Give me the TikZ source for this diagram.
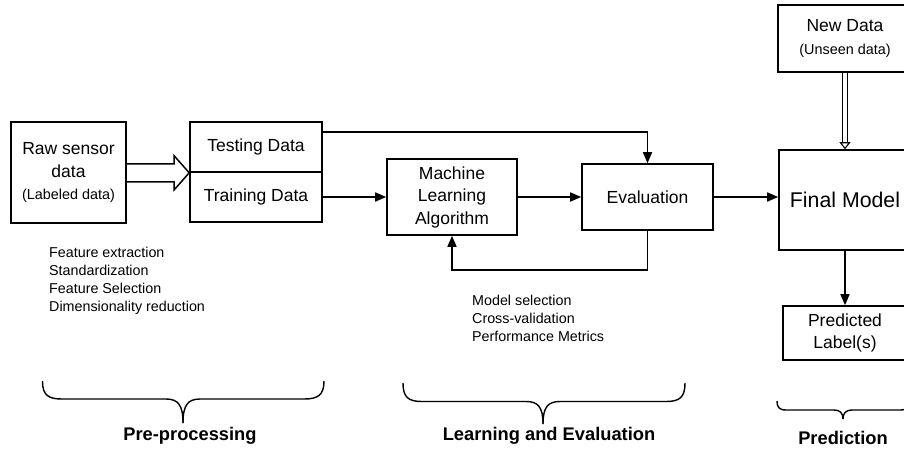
\documentclass[tikz,border=0pt]{standalone}
\usepackage{fontspec}
\setmainfont{Liberation Sans}
\usetikzlibrary{arrows.meta,calc}
\newcommand\myfs[2]{\fontsize{#1}{#2}\selectfont}
\tikzset{
  box/.style={draw, line width=1.6pt, align=center, inner sep=0pt, font=\myfs{17.5}{22.5}},
  conn/.style={line width=1.6pt, -{Triangle[length=11pt,width=9pt]}},
  dbl/.style={double, line width=1.1pt, double distance=3.4pt, -{Triangle[open,length=7pt,width=11pt]}},
  hollow/.style={line width=1.5pt, line join=miter},
  txt/.style={align=left, inner sep=0pt, font=\myfs{14.3}{18}},
  lbl/.style={inner sep=0pt, font=\bfseries\myfs{18.3}{22}},
  brc/.style={line width=1.4pt}
}
\begin{document}
\begin{tikzpicture}[x=1pt,y=-1pt]
\clip (0,0) rectangle (904,448);
\fill[white] (0,0) rectangle (904,448);
% boxes
\node[box, minimum width=115pt, minimum height=101pt] (raw) at (68.5,172.5) {Raw sensor\\data\\{\myfs{14.4}{18}(Labeled data)}};
\node[box, minimum width=132pt, minimum height=50pt] (test) at (256,147) {Testing Data};
\node[box, minimum width=132pt, minimum height=50pt] (train) at (256,197) {Training Data};
\node[box, minimum width=130pt, minimum height=76pt] (ml) at (452,197) {Machine\\Learning\\Algorithm};
\node[box, minimum width=131pt, minimum height=66pt] (eval) at (647.5,197) {Evaluation};
\node[box, minimum width=132pt, minimum height=100pt, font=\myfs{21.3}{26}] (final) at (845,200) {Final Model};
\node[box, minimum width=134pt, minimum height=67pt] (new) at (845,38.5) {New Data\\{\myfs{14.4}{18}(Unseen data)}};
\node[box, minimum width=124pt, minimum height=54pt] (pred) at (845,333) {Predicted\\Label(s)};
% text lists
\node[txt, anchor=north west] (fe) at (49,247) {Feature extraction\\Standardization\\Feature Selection\\Dimensionality reduction};
\node[txt, anchor=north west] (ms) at (472,295) {Model selection\\Cross-validation\\Performance Metrics};
% hollow block arrow
\coordinate (tip) at (test.south west);
\draw[hollow] ($(raw.east |- tip)+(0,-9)$) -- ($(tip)+(-15,-9)$) -- ($(tip)+(-15,-17)$) -- (tip) -- ($(tip)+(-15,17)$) -- ($(tip)+(-15,9)$) -- ($(raw.east |- tip)+(0,9)$);
% connectors
\coordinate (t1) at ($(test.north east)+(0,11)$);
\draw[conn] (t1) -| (eval.north);
\draw[conn] (train.east) -- (ml.west);
\draw[conn] (ml.east) -- (eval.west);
\draw[conn] (eval.east) -- (eval.east -| final.west);
\draw[conn] (eval.south) -- ++(0,39) -| (ml.south);
\draw[conn] (final.south) -- (pred.north);
\draw[dbl] (new.south) -- (final.north);
% braces
\draw[brc] (42.5,381) .. controls (42.5,395) and (48,399) .. (62,399) -- (166,399) .. controls (178,399) and (183,405) .. (183,423);
\draw[brc] (324,381) .. controls (324,395) and (318,399) .. (304,399) -- (200,399) .. controls (188,399) and (183,405) .. (183,423);
\draw[brc] (403,383) .. controls (403,397) and (408,401.5) .. (422,401.5) -- (526,401.5) .. controls (538,401.5) and (543,407) .. (543,424);
\draw[brc] (685,383) .. controls (685,397) and (680,401.5) .. (666,401.5) -- (560,401.5) .. controls (548,401.5) and (543,407) .. (543,424);
\draw[brc] (777,401) .. controls (777,407) and (779,410) .. (786,410) -- (834,410) .. controls (840,410) and (843,413) .. (843,419);
\draw[brc] (909,401) .. controls (909,407) and (907,410) .. (900,410) -- (852,410) .. controls (846,410) and (843,413) .. (843,419);
% labels
\node[lbl] (pp) at (190,436) {Pre-processing};
\node[lbl] (le) at (549,436) {Learning and Evaluation};
\node[lbl] (pr) at (843,438) {Prediction};
\end{tikzpicture}
\end{document}
